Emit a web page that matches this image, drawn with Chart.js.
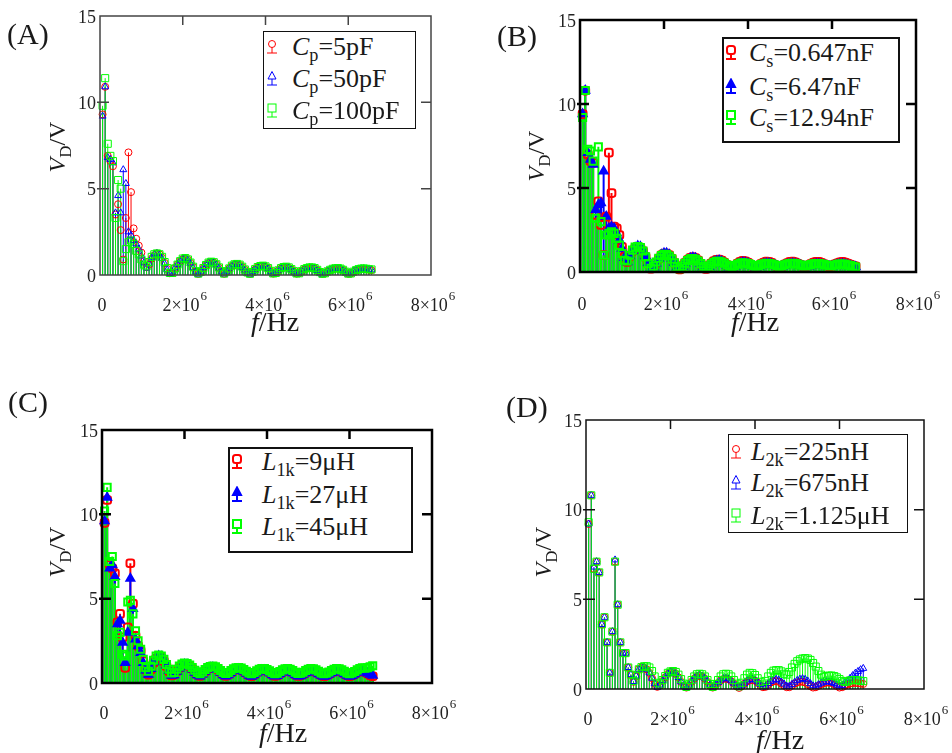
<!DOCTYPE html>
<html>
<head>
<meta charset="utf-8">
<script src="https://cdn.jsdelivr.net/npm/chart.js@4.4.1/dist/chart.umd.min.js"></script>
<style>
  body { margin: 0; background: #fff; }
  #wrap { position: relative; width: 952px; height: 753px; font-family: "Liberation Serif", "Times New Roman", Times, Tinos, serif; color: #1a1a1a; }
  canvas { position: absolute; }
  .plab { position: absolute; font-size: 30px; line-height: 30px; }
  .ytitle { position: absolute; font-size: 24px; line-height: 24px; white-space: nowrap; transform: translate(-50%, -50%) rotate(-90deg); }
  .xtitle { position: absolute; font-size: 28px; line-height: 28px; white-space: nowrap; transform: translate(-50%, -50%); }
  .legend { position: absolute; background: #fff; box-sizing: border-box; border: 1px solid #111; }
  .row { position: absolute; left: 0; height: 28px; line-height: 28px; font-size: 26px; white-space: nowrap; }
  .row svg { position: absolute; top: 5px; }
  .row span { position: absolute; top: 0; }
  sub { font-size: 70%; vertical-align: -0.35em; line-height: 0; }
</style>
</head>
<body>
<div id="wrap">
  <canvas id="cA" width="476" height="360" style="left:0;top:0"></canvas>
  <canvas id="cB" width="476" height="360" style="left:476px;top:0"></canvas>
  <canvas id="cC" width="476" height="393" style="left:0;top:360px"></canvas>
  <canvas id="cD" width="476" height="393" style="left:476px;top:360px"></canvas>

  <div class="plab" style="left:7px;top:19px">(A)</div>
  <div class="plab" style="left:497px;top:21px">(B)</div>
  <div class="plab" style="left:8px;top:387px">(C)</div>
  <div class="plab" style="left:506px;top:392px">(D)</div>

  <div class="ytitle" style="left:57px;top:147px"><i>V</i><sub>D</sub>/V</div>
  <div class="ytitle" style="left:536px;top:156px"><i>V</i><sub>D</sub>/V</div>
  <div class="ytitle" style="left:57px;top:552px"><i>V</i><sub>D</sub>/V</div>
  <div class="ytitle" style="left:543px;top:552px"><i>V</i><sub>D</sub>/V</div>

  <div class="xtitle" style="left:275px;top:322px"><i>f</i>/Hz</div>
  <div class="xtitle" style="left:755px;top:322px"><i>f</i>/Hz</div>
  <div class="xtitle" style="left:283px;top:733px"><i>f</i>/Hz</div>
  <div class="xtitle" style="left:780px;top:740px"><i>f</i>/Hz</div>
</div>

<script>
// sample frequencies, MHz
const freqMHz = [
  0.0625, 0.125, 0.1875, 0.25, 0.3125, 0.375, 0.4375, 0.5, 0.5625, 0.625, 0.6875, 0.75, 0.8125, 0.875, 0.9375, 1,
  1.0625, 1.125, 1.1875, 1.25, 1.3125, 1.375, 1.4375, 1.5, 1.5625, 1.625, 1.6875, 1.75, 1.8125, 1.875, 1.9375, 2,
  2.0625, 2.125, 2.1875, 2.25, 2.3125, 2.375, 2.4375, 2.5, 2.5625, 2.625, 2.6875, 2.75, 2.8125, 2.875, 2.9375, 3,
  3.0625, 3.125, 3.1875, 3.25, 3.3125, 3.375, 3.4375, 3.5, 3.5625, 3.625, 3.6875, 3.75, 3.8125, 3.875, 3.9375, 4,
  4.0625, 4.125, 4.1875, 4.25, 4.3125, 4.375, 4.4375, 4.5, 4.5625, 4.625, 4.6875, 4.75, 4.8125, 4.875, 4.9375, 5,
  5.0625, 5.125, 5.1875, 5.25, 5.3125, 5.375, 5.4375, 5.5, 5.5625, 5.625, 5.6875, 5.75, 5.8125, 5.875, 5.9375, 6,
  6.0625, 6.125, 6.1875, 6.25, 6.3125, 6.375, 6.4375, 6.5, 6.5625
];

const xTicks = [0, 2e6, 4e6, 6e6, 8e6];
const xTickLabels = ['0', '2×10^6', '4×10^6', '6×10^6', '8×10^6'];
const yTicks = [0, 5, 10, 15];
const yTickLabels = ['0', '5', '10', '15'];

// (A) Cp
const vA_Cp5 = [
  9.3, 10.9, 6.9, 6.6, 6.3, 3.5, 4.1, 2.6, 0.9, 3.3, 7.1, 4.8, 2.7, 2.1, 1.7, 1.3,
  0.8, 0.45, 0.6, 0.95, 1.15, 1.25, 1.2, 1.0, 0.7, 0.35, 0.1,
  0.15, 0.4, 0.6, 0.8, 0.92, 0.95, 0.88, 0.7, 0.45, 0.2, 0.06,
  0.2, 0.4, 0.58, 0.7, 0.75, 0.72, 0.6, 0.42, 0.2, 0.07,
  0.2, 0.38, 0.52, 0.6, 0.62, 0.58, 0.46, 0.3, 0.14, 0.06,
  0.18, 0.32, 0.44, 0.5, 0.52, 0.48, 0.38, 0.22, 0.08,
  0.12, 0.26, 0.38, 0.44, 0.46, 0.42, 0.32, 0.2, 0.08, 0.1,
  0.22, 0.32, 0.38, 0.42, 0.42, 0.38, 0.28, 0.16, 0.06, 0.1,
  0.2, 0.28, 0.34, 0.37, 0.38, 0.35, 0.28, 0.18, 0.07, 0.08,
  0.18, 0.26, 0.32, 0.35, 0.36, 0.34, 0.3, 0.28
];
const vA_Cp50 = [
  9.2, 10.9, 6.8, 6.7, 6.5, 3.6, 4.6, 3.6, 6.1, 5.3, 2.5, 2.3, 2.0, 1.8, 1.5, 1.1,
  0.7, 0.4, 0.65, 1.0, 1.2, 1.25, 1.15, 0.95, 0.65, 0.3, 0.08,
  0.18, 0.42, 0.62, 0.82, 0.93, 0.95, 0.86, 0.68, 0.42, 0.18, 0.05,
  0.22, 0.42, 0.6, 0.71, 0.74, 0.7, 0.58, 0.4, 0.18, 0.06,
  0.22, 0.4, 0.53, 0.6, 0.61, 0.56, 0.44, 0.28, 0.12, 0.05,
  0.2, 0.34, 0.45, 0.5, 0.5, 0.46, 0.36, 0.2, 0.07,
  0.14, 0.28, 0.39, 0.45, 0.45, 0.4, 0.3, 0.18, 0.07, 0.12,
  0.24, 0.34, 0.4, 0.42, 0.4, 0.36, 0.26, 0.14, 0.05, 0.12,
  0.22, 0.3, 0.35, 0.38, 0.37, 0.33, 0.26, 0.16, 0.06, 0.1,
  0.2, 0.28, 0.33, 0.36, 0.36, 0.33, 0.3, 0.3
];
const vA_Cp100 = [
  9.8, 11.4, 7.6, 6.9, 6.6, 3.3, 5.5, 5.0, 0.8, 1.5, 1.9, 2.0, 1.8, 1.4, 1.2, 0.9,
  0.6, 0.5, 0.75, 1.05, 1.2, 1.25, 1.2, 1.05, 0.75, 0.4, 0.12,
  0.12, 0.38, 0.6, 0.8, 0.95, 0.98, 0.9, 0.72, 0.48, 0.22, 0.08,
  0.18, 0.4, 0.58, 0.72, 0.77, 0.74, 0.62, 0.44, 0.22, 0.08,
  0.2, 0.38, 0.54, 0.62, 0.64, 0.6, 0.48, 0.32, 0.15, 0.07,
  0.18, 0.34, 0.46, 0.52, 0.54, 0.5, 0.4, 0.24, 0.09,
  0.12, 0.27, 0.4, 0.46, 0.48, 0.44, 0.34, 0.22, 0.09, 0.1,
  0.22, 0.34, 0.4, 0.44, 0.44, 0.4, 0.3, 0.17, 0.07, 0.1,
  0.21, 0.3, 0.36, 0.39, 0.4, 0.37, 0.3, 0.19, 0.08, 0.09,
  0.19, 0.28, 0.34, 0.37, 0.38, 0.36, 0.33, 0.32
];

// (B) Cs
const vB_Cs0647 = [
  9.4, 10.8, 7.0, 6.6, 6.5, 3.4, 4.2, 2.8, 1.0, 3.3, 7.1, 4.7, 2.7, 2.6, 2.2, 1.5,
  0.9, 0.6, 0.95, 1.25, 1.42, 1.5, 1.45, 1.25, 0.9, 0.5, 0.2,
  0.3, 0.55, 0.8, 1.0, 1.1, 1.1, 1.0, 0.8, 0.55, 0.3, 0.15,
  0.35, 0.55, 0.72, 0.84, 0.88, 0.82, 0.7, 0.5, 0.3, 0.18,
  0.35, 0.52, 0.65, 0.72, 0.74, 0.68, 0.56, 0.42, 0.3, 0.26,
  0.38, 0.5, 0.6, 0.66, 0.64, 0.56, 0.46, 0.36, 0.3,
  0.38, 0.48, 0.56, 0.62, 0.6, 0.54, 0.44, 0.36, 0.32, 0.36,
  0.45, 0.53, 0.6, 0.62, 0.58, 0.5, 0.42, 0.36, 0.34, 0.4,
  0.48, 0.56, 0.6, 0.6, 0.55, 0.47, 0.4, 0.36, 0.38, 0.45,
  0.52, 0.58, 0.6, 0.56, 0.5, 0.44, 0.38, 0.34
];
const vB_Cs647 = [
  9.4, 10.8, 7.1, 6.7, 6.4, 3.7, 4.0, 4.1, 6.0, 3.3, 2.6, 2.7, 2.6, 2.3, 1.9, 1.4,
  0.85, 0.6, 0.95, 1.25, 1.45, 1.55, 1.5, 1.3, 0.95, 0.55, 0.22,
  0.28, 0.52, 0.8, 1.02, 1.12, 1.12, 1.02, 0.82, 0.56, 0.3, 0.14,
  0.32, 0.52, 0.7, 0.82, 0.86, 0.82, 0.7, 0.5, 0.3, 0.16,
  0.32, 0.48, 0.6, 0.66, 0.68, 0.62, 0.52, 0.4, 0.28, 0.22,
  0.32, 0.44, 0.52, 0.56, 0.55, 0.5, 0.42, 0.34, 0.28,
  0.32, 0.4, 0.47, 0.5, 0.5, 0.46, 0.4, 0.34, 0.3, 0.32,
  0.38, 0.44, 0.48, 0.5, 0.48, 0.44, 0.38, 0.33, 0.3, 0.34,
  0.4, 0.45, 0.48, 0.48, 0.45, 0.4, 0.35, 0.32, 0.33, 0.38,
  0.43, 0.46, 0.47, 0.45, 0.4, 0.36, 0.33, 0.3
];
const vB_Cs1294 = [
  9.2, 10.8, 7.3, 7.2, 6.6, 3.2, 7.45, 3.0, 1.0, 2.2, 2.3, 2.4, 2.3, 2.0, 1.6, 1.1,
  0.7, 0.65, 1.0, 1.3, 1.48, 1.52, 1.45, 1.25, 0.9, 0.5, 0.22,
  0.35, 0.6, 0.82, 0.98, 1.05, 1.04, 0.95, 0.78, 0.55, 0.32, 0.2,
  0.35, 0.52, 0.68, 0.78, 0.8, 0.76, 0.66, 0.5, 0.34, 0.24,
  0.35, 0.48, 0.58, 0.64, 0.64, 0.6, 0.52, 0.42, 0.34, 0.3,
  0.38, 0.46, 0.52, 0.55, 0.54, 0.5, 0.44, 0.38, 0.34,
  0.38, 0.44, 0.49, 0.52, 0.51, 0.48, 0.43, 0.38, 0.35, 0.38,
  0.43, 0.48, 0.51, 0.52, 0.5, 0.46, 0.41, 0.37, 0.36, 0.4,
  0.45, 0.49, 0.51, 0.51, 0.48, 0.44, 0.4, 0.37, 0.38, 0.42,
  0.46, 0.48, 0.48, 0.46, 0.42, 0.38, 0.34, 0.3
];

// (C) L1k
const vC_L9 = [
  9.5, 10.85, 7.0, 6.8, 6.5, 3.6, 4.1, 2.7, 0.9, 3.3, 7.1, 4.7, 2.8, 2.2, 1.9, 1.3,
  0.8, 0.5, 0.8, 1.2, 1.45, 1.55, 1.5, 1.3, 1.0, 0.7, 0.45,
  0.5, 0.7, 0.9, 1.05, 1.12, 1.1, 1.0, 0.85, 0.65, 0.5, 0.42,
  0.55, 0.7, 0.85, 0.92, 0.94, 0.9, 0.8, 0.65, 0.5, 0.42,
  0.5, 0.62, 0.74, 0.82, 0.84, 0.8, 0.7, 0.58, 0.46, 0.4,
  0.5, 0.62, 0.72, 0.78, 0.78, 0.72, 0.62, 0.5, 0.42,
  0.45, 0.56, 0.66, 0.74, 0.76, 0.72, 0.62, 0.5, 0.42, 0.44,
  0.52, 0.62, 0.7, 0.74, 0.72, 0.66, 0.56, 0.46, 0.4, 0.44,
  0.52, 0.62, 0.7, 0.74, 0.72, 0.66, 0.56, 0.46, 0.4, 0.45,
  0.54, 0.64, 0.7, 0.72, 0.66, 0.56, 0.46, 0.4
];
const vC_L27 = [
  9.6, 11.0, 6.8, 7.0, 6.3, 3.5, 3.7, 2.4, 1.2, 3.0, 6.2, 4.4, 2.6, 2.2, 1.8, 1.2,
  0.75, 0.5, 0.85, 1.25, 1.5, 1.6, 1.55, 1.35, 1.05, 0.72, 0.45,
  0.48, 0.68, 0.88, 1.02, 1.1, 1.08, 0.98, 0.82, 0.62, 0.48, 0.4,
  0.52, 0.68, 0.82, 0.9, 0.92, 0.88, 0.78, 0.62, 0.48, 0.4,
  0.48, 0.6, 0.72, 0.8, 0.82, 0.78, 0.68, 0.56, 0.44, 0.38,
  0.48, 0.6, 0.7, 0.76, 0.76, 0.7, 0.6, 0.48, 0.4,
  0.43, 0.54, 0.64, 0.72, 0.74, 0.7, 0.6, 0.48, 0.4, 0.42,
  0.5, 0.6, 0.68, 0.72, 0.7, 0.64, 0.54, 0.44, 0.38, 0.42,
  0.5, 0.6, 0.68, 0.72, 0.7, 0.64, 0.54, 0.44, 0.38, 0.43,
  0.52, 0.62, 0.68, 0.7, 0.66, 0.58, 0.5, 0.45
];
const vC_L45 = [
  10.2, 11.6, 7.2, 7.5, 5.9, 2.8, 3.0, 1.7, 1.6, 4.8, 4.9, 4.1, 3.1, 2.5, 2.0, 1.4,
  0.9, 0.7, 1.0, 1.35, 1.6, 1.66, 1.6, 1.4, 1.1, 0.82, 0.6,
  0.62, 0.82, 1.0, 1.12, 1.18, 1.16, 1.06, 0.92, 0.76, 0.62, 0.55,
  0.66, 0.8, 0.92, 0.98, 1.0, 0.96, 0.86, 0.74, 0.62, 0.56,
  0.62, 0.74, 0.84, 0.9, 0.92, 0.88, 0.8, 0.7, 0.6, 0.55,
  0.62, 0.72, 0.82, 0.86, 0.86, 0.8, 0.72, 0.62, 0.55,
  0.58, 0.68, 0.78, 0.84, 0.86, 0.82, 0.74, 0.64, 0.56, 0.58,
  0.64, 0.74, 0.82, 0.86, 0.84, 0.78, 0.7, 0.6, 0.55, 0.58,
  0.65, 0.74, 0.82, 0.86, 0.84, 0.78, 0.7, 0.6, 0.55, 0.6,
  0.68, 0.78, 0.86, 0.9, 0.88, 0.9, 0.96, 1.02
];

// (D) L2k
const vD_L225 = [
  9.2, 10.8, 6.7, 7.1, 6.5, 3.6, 4.0, 2.6, 0.9, 3.2, 7.1, 4.7, 2.6, 2.0, 2.0, 1.2,
  0.8, 0.4, 0.7, 1.1, 1.2, 1.2, 1.1, 0.9, 0.6, 0.3, 0.12,
  0.2, 0.45, 0.65, 0.85, 0.95, 0.95, 0.85, 0.65, 0.4, 0.18, 0.08,
  0.2, 0.4, 0.58, 0.7, 0.74, 0.7, 0.58, 0.4, 0.2, 0.08,
  0.18, 0.34, 0.48, 0.56, 0.58, 0.54, 0.44, 0.3, 0.15, 0.06,
  0.16, 0.3, 0.42, 0.48, 0.5, 0.46, 0.36, 0.22, 0.1,
  0.12, 0.24, 0.36, 0.42, 0.44, 0.4, 0.3, 0.2, 0.1, 0.1,
  0.2, 0.3, 0.36, 0.4, 0.4, 0.36, 0.27, 0.16, 0.08, 0.1,
  0.18, 0.26, 0.32, 0.35, 0.36, 0.33, 0.26, 0.17, 0.08, 0.1,
  0.18, 0.25, 0.3, 0.33, 0.34, 0.32, 0.3, 0.28
];
const vD_L675 = [
  9.2, 10.8, 6.8, 7.1, 6.5, 3.6, 4.0, 2.6, 0.9, 3.2, 7.2, 4.7, 2.6, 2.0, 2.0, 1.2,
  0.8, 0.42, 0.72, 1.1, 1.22, 1.22, 1.1, 0.9, 0.6, 0.3, 0.1,
  0.22, 0.46, 0.66, 0.86, 0.96, 0.95, 0.85, 0.64, 0.4, 0.17, 0.08,
  0.22, 0.42, 0.6, 0.72, 0.76, 0.72, 0.6, 0.42, 0.22, 0.1,
  0.2, 0.36, 0.5, 0.58, 0.6, 0.56, 0.46, 0.32, 0.17, 0.08,
  0.18, 0.32, 0.45, 0.52, 0.54, 0.5, 0.4, 0.26, 0.12,
  0.16, 0.3, 0.42, 0.5, 0.54, 0.5, 0.4, 0.28, 0.16, 0.15,
  0.26, 0.38, 0.48, 0.55, 0.58, 0.54, 0.44, 0.3, 0.18, 0.16,
  0.24, 0.32, 0.38, 0.4, 0.4, 0.36, 0.3, 0.22, 0.16, 0.2,
  0.32, 0.45, 0.6, 0.75, 0.88, 0.98, 1.08, 1.15
];
const vD_L1125 = [
  9.3, 10.8, 6.7, 7.1, 6.5, 3.6, 4.0, 2.6, 0.9, 3.2, 7.1, 4.7, 2.6, 2.0, 2.0, 1.2,
  0.8, 0.45, 0.75, 1.1, 1.22, 1.27, 1.27, 1.2, 1.0, 0.7, 0.35,
  0.25, 0.5, 0.72, 0.9, 0.98, 1.0, 0.95, 0.8, 0.55, 0.3, 0.12,
  0.25, 0.5, 0.7, 0.82, 0.85, 0.82, 0.7, 0.5, 0.28, 0.12,
  0.28, 0.5, 0.7, 0.82, 0.85, 0.82, 0.7, 0.5, 0.3, 0.15,
  0.35, 0.6, 0.8, 0.9, 0.88, 0.78, 0.6, 0.4, 0.25,
  0.45, 0.7, 0.9, 1.02, 1.05, 1.05, 0.98, 0.85, 0.8, 0.95,
  1.2, 1.4, 1.55, 1.65, 1.7, 1.72, 1.7, 1.62, 1.45, 1.25,
  1.0, 0.8, 0.68, 0.72, 0.75, 0.75, 0.72, 0.65, 0.55, 0.45,
  0.4, 0.42, 0.48, 0.5, 0.5, 0.48, 0.46, 0.44
];

const legendA = ['<i>C</i><sub>p</sub>=5pF', '<i>C</i><sub>p</sub>=50pF', '<i>C</i><sub>p</sub>=100pF'];
const legendB = ['<i>C</i><sub>s</sub>=0.647nF', '<i>C</i><sub>s</sub>=6.47nF', '<i>C</i><sub>s</sub>=12.94nF'];
const legendC = ['<i>L</i><sub>1k</sub>=9μH', '<i>L</i><sub>1k</sub>=27μH', '<i>L</i><sub>1k</sub>=45μH'];
const legendD = ['<i>L</i><sub>2k</sub>=225nH', '<i>L</i><sub>2k</sub>=675nH', '<i>L</i><sub>2k</sub>=1.125μH'];

const RED = '#ff0000', BLUE = '#0000ff', GREEN = '#00ff00';
const SERIF = '"Liberation Serif", "Times New Roman", Times, Tinos, serif';

const thinStyles = [
  { color: RED, style: 'circle', r: 3.5, bw: 1, fill: false },
  { color: BLUE, style: 'triangle', r: 4, bw: 1, fill: false },
  { color: GREEN, style: 'rect', r: 5, bw: 1, fill: false }
];
const boldStyles = [
  { color: RED, style: 'rectRounded', r: 4.5, bw: 2, fill: false },
  { color: BLUE, style: 'triangle', r: 4.5, bw: 2, fill: true },
  { color: GREEN, style: 'rect', r: 5, bw: 2, fill: false }
];

const panels = [
  { id: 'cA', series: [vA_Cp5, vA_Cp50, vA_Cp100], legend: legendA, styles: thinStyles,
    pad: { left: 100, top: 16, right: 45, bottom: 85 }, frame: { color: '#444', width: 1.5, labelGap: 31 }, stem: 1,
    box: { left: 263, top: 31, w: 153, h: 98, border: 1, rows: [16, 48, 80], mx: 9, tx: 29 } },
  { id: 'cB', series: [vB_Cs0647, vB_Cs647, vB_Cs1294], legend: legendB, styles: boldStyles,
    pad: { left: 104, top: 20, right: 36, bottom: 88 }, frame: { color: '#000', width: 2.5, labelGap: 33 }, stem: 2,
    box: { left: 722, top: 37, w: 178, h: 106, border: 2, rows: [16, 50, 81], mx: 9, tx: 27 } },
  { id: 'cC', series: [vC_L9, vC_L27, vC_L45], legend: legendC, styles: boldStyles,
    pad: { left: 102, top: 70, right: 44, bottom: 70 }, frame: { color: '#000', width: 2.5, labelGap: 31 }, stem: 2,
    box: { left: 228, top: 447, w: 185, h: 106, border: 2, rows: [15, 48, 80], mx: 9, tx: 34 } },
  { id: 'cD', series: [vD_L225, vD_L675, vD_L1125], legend: legendD, styles: thinStyles,
    pad: { left: 110, top: 60, right: 28, bottom: 64 }, frame: { color: '#111', width: 1.5, labelGap: 31 }, stem: 1,
    box: { left: 728, top: 434, w: 180, h: 99, border: 1, rows: [18, 49, 82], mx: 8, tx: 23 } }
];

// vertical stems from 0 to each value
const stemPlugin = {
  id: 'stems',
  beforeDatasetsDraw(chart, args, opts) {
    const ctx = chart.ctx;
    const y0 = chart.scales.y.getPixelForValue(0);
    chart.data.datasets.forEach((ds, i) => {
      const meta = chart.getDatasetMeta(i);
      ctx.save();
      ctx.strokeStyle = ds.pointBorderColor;
      ctx.lineWidth = opts.width;
      ctx.beginPath();
      meta.data.forEach(p => { ctx.moveTo(p.x, y0); ctx.lineTo(p.x, p.y); });
      ctx.stroke();
      ctx.restore();
    });
  }
};

// box frame, inner ticks and tick labels
const framePlugin = {
  id: 'frame',
  afterDraw(chart, args, o) {
    const { ctx, chartArea: a } = chart;
    const x = chart.scales.x, y = chart.scales.y;
    ctx.save();
    ctx.strokeStyle = o.color;
    ctx.lineWidth = o.width;
    ctx.strokeRect(a.left, a.top, a.right - a.left, a.bottom - a.top);
    ctx.beginPath();
    xTicks.forEach(v => {
      if (v > x.min && v < x.max) {
        const px = x.getPixelForValue(v);
        ctx.moveTo(px, a.top); ctx.lineTo(px, a.top + 9);
      }
    });
    yTicks.forEach(v => {
      if (v > y.min && v < y.max) {
        const py = y.getPixelForValue(v);
        ctx.moveTo(a.right, py); ctx.lineTo(a.right - 10, py);
        ctx.moveTo(a.left - 3, py); ctx.lineTo(a.left + 9, py);
      }
    });
    ctx.stroke();

    ctx.fillStyle = '#222';
    ctx.font = '18px ' + SERIF;
    ctx.textAlign = 'right';
    ctx.textBaseline = 'middle';
    yTicks.forEach((v, i) => ctx.fillText(yTickLabels[i], a.left - 4, y.getPixelForValue(v) + 2));

    ctx.textAlign = 'left';
    xTicks.forEach((v, i) => {
      const [base, sup] = xTickLabels[i].split('^');
      ctx.font = '18px ' + SERIF;
      const wb = ctx.measureText(base).width;
      let ws = 0;
      if (sup) { ctx.font = '13px ' + SERIF; ws = ctx.measureText(sup).width + 1; }
      const x0 = x.getPixelForValue(v) - (wb + ws) / 2 + 2;
      const yl = a.bottom + o.labelGap;
      ctx.font = '18px ' + SERIF;
      ctx.fillText(base, x0, yl);
      if (sup) { ctx.font = '13px ' + SERIF; ctx.fillText(sup, x0 + wb + 1, yl - 9); }
    });
    ctx.restore();
  }
};

function markerSvg(s) {
  const c = s.color, w = s.bw;
  let shape;
  if (s.style === 'circle') {
    shape = `<circle cx="7" cy="6" r="3.5" fill="#fff" stroke="${c}" stroke-width="${w}"/>`;
  } else if (s.style === 'triangle') {
    shape = `<polygon points="7,1.5 11,9 3,9" fill="${s.fill ? c : '#fff'}" stroke="${c}" stroke-width="${w}"/>`;
  } else if (s.style === 'rectRounded') {
    shape = `<rect x="3" y="2" width="8" height="8" rx="2.5" fill="#fff" stroke="${c}" stroke-width="${w}"/>`;
  } else {
    shape = `<rect x="3" y="2" width="8" height="8" fill="#fff" stroke="${c}" stroke-width="${w}"/>`;
  }
  return `<svg width="14" height="18" viewBox="0 0 14 18">` +
    `<line x1="7" y1="8" x2="7" y2="15" stroke="${c}" stroke-width="${w}"/>` +
    `<line x1="2" y1="15" x2="12" y2="15" stroke="${c}" stroke-width="${w}"/>` + shape + `</svg>`;
}

const wrap = document.getElementById('wrap');

panels.forEach(p => {
  const datasets = p.series.map((vals, i) => {
    const s = p.styles[i];
    return {
      data: vals.map((v, k) => ({ x: freqMHz[k] * 1e6, y: v })),
      pointStyle: s.style,
      pointRadius: s.r,
      pointBorderWidth: s.bw,
      pointBorderColor: s.color,
      pointBackgroundColor: s.fill ? s.color : 'rgba(0,0,0,0)',
      showLine: false,
      clip: false,
      order: 3 - i
    };
  });

  new Chart(document.getElementById(p.id), {
    type: 'scatter',
    data: { datasets },
    options: {
      responsive: false,
      animation: false,
      events: [],
      layout: { padding: p.pad },
      plugins: {
        legend: { display: false },
        tooltip: { enabled: false },
        stems: { width: p.stem },
        frame: p.frame
      },
      scales: {
        x: { type: 'linear', min: 0, max: 8e6, display: false },
        y: { type: 'linear', min: 0, max: 15, display: false }
      }
    },
    plugins: [stemPlugin, framePlugin]
  });

  const b = p.box;
  const box = document.createElement('div');
  box.className = 'legend';
  box.style.cssText = `left:${b.left}px;top:${b.top}px;width:${b.w}px;height:${b.h}px;border-width:${b.border}px;`;
  p.legend.forEach((txt, i) => {
    const row = document.createElement('div');
    row.className = 'row';
    row.style.top = (b.rows[i] - 14 - b.border) + 'px';
    row.innerHTML = markerSvg(p.styles[i]).replace('<svg ', `<svg style="left:${b.mx - 7 - b.border}px" `) +
      `<span style="left:${b.tx - b.border}px">${txt}</span>`;
    box.appendChild(row);
  });
  wrap.appendChild(box);
});
</script>
</body>
</html>
